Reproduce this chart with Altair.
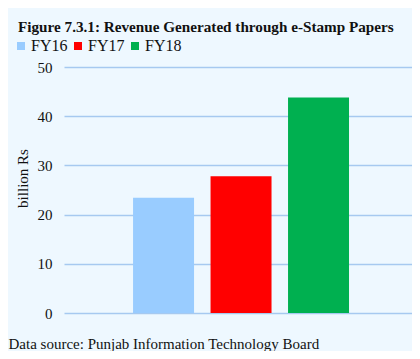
import altair as alt
import pandas as pd

years = ["FY16", "FY17", "FY18"]
revenue = [23.4, 27.8, 43.8]
colors = ["#99CCFF", "#FF0000", "#00B050"]

df = pd.DataFrame({"year": years, "revenue": revenue})

FONT = "Liberation Serif"
BG = "#EEF8FF"

chart = alt.Chart(df).mark_bar().encode(
    x=alt.X("year:N", sort=years,
            scale=alt.Scale(paddingInner=0.213, paddingOuter=0.852, align=0.523),
            axis=alt.Axis(labels=False, ticks=False, domain=False, grid=False,
                          title="Data source: Punjab Information Technology Board",
                          titleFont=FONT, titleFontSize=15, titleFontWeight="normal",
                          titleColor="#111111", titleAnchor="start", titleAlign="left",
                          titleX=-56, titleY=35, titleBaseline="alphabetic")),
    y=alt.Y("revenue:Q", scale=alt.Scale(domain=[0, 50]),
            axis=alt.Axis(values=[0, 10, 20, 30, 40, 50], ticks=False, domain=False,
                          grid=True, gridColor="#A6C9F0", gridWidth=1.5,
                          labelFont=FONT, labelFontSize=15, labelColor="#111111",
                          labelPadding=12,
                          title="billion Rs", titleFont=FONT, titleFontSize=15,
                          titleFontWeight="normal", titleColor="#111111",
                          titleAngle=270, titleAlign="center", titleBaseline="middle",
                          titleX=-42, titleY=111)),
    color=alt.Color("year:N", sort=years,
                    scale=alt.Scale(domain=years, range=colors),
                    legend=alt.Legend(title=None, orient="none", direction="horizontal",
                                      legendX=-51, legendY=-29, padding=0,
                                      symbolType="square", symbolSize=64,
                                      symbolStrokeWidth=0,
                                      labelFont=FONT, labelFontSize=16,
                                      labelColor="#111111", labelOffset=2,
                                      columnPadding=2)),
).properties(
    width=348,
    height=246,
    title=alt.Title("Figure 7.3.1: Revenue Generated through e-Stamp Papers",
                    font=FONT, fontSize=15.2, fontWeight="bold", color="#111111",
                    anchor="start", dx=10, dy=19, offset=10, baseline="alphabetic"),
    background=BG,
    padding={"left": 56, "top": 59, "right": 0, "bottom": 38},
    autosize=alt.AutoSizeParams(type="none"),
).configure_view(stroke=None)

chart.save("out.html", embed_options={"renderer": "svg", "actions": False})
